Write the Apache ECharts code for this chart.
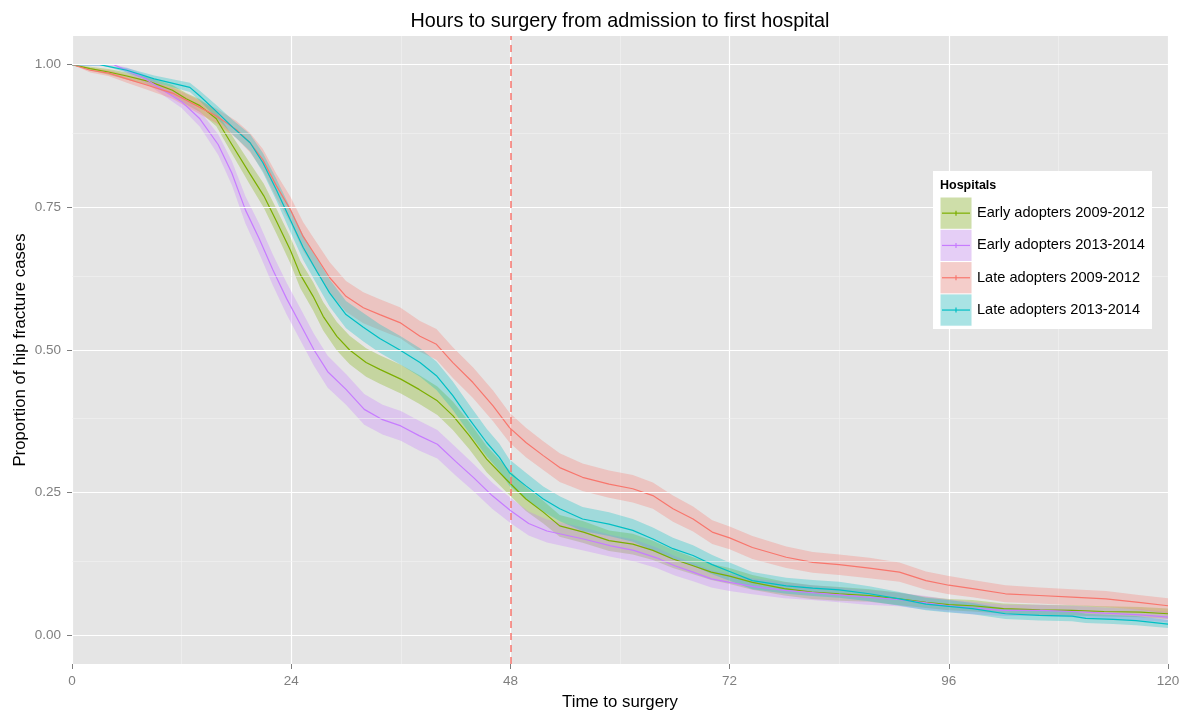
<!DOCTYPE html>
<html>
<head>
<meta charset="utf-8">
<script src="https://cdn.jsdelivr.net/npm/echarts@6/dist/echarts.min.js"></script>
<style>
html,body{margin:0;padding:0;background:#fff;}
#chart{width:1188px;height:713px;}
</style>
</head>
<body>
<div id="chart"></div>
<script>
// ---- Data ----
const seriesNames = ['Early adopters 2009-2012','Early adopters 2013-2014','Late adopters 2009-2012','Late adopters 2013-2014'];
const seriesColors = ['#7CAE00','#C77CFF','#F8766D','#00BFC4'];

const tEarly0912 = [0,2,4,6,8.5,11,12.5,14,15.8,17.5,19.5,21,22.4,23.9,25,26.4,27.5,29,30.4,32.2,33.7,36,38,40,41.7,43.5,45.4,47.5,49.7,51.6,53.4,56,58.8,61.4,63.6,65.8,68,70,72,74.5,78,81,84,87.3,90.6,93.5,96,98.6,102,106,109.5,113,117,120];
const sEarly0912 = [1,0.993,0.987,0.98,0.97,0.955,0.94,0.928,0.905,0.86,0.808,0.77,0.725,0.675,0.632,0.594,0.559,0.524,0.5,0.478,0.466,0.449,0.431,0.411,0.385,0.35,0.309,0.274,0.239,0.216,0.192,0.181,0.166,0.16,0.149,0.134,0.122,0.111,0.104,0.093,0.082,0.076,0.073,0.07,0.064,0.058,0.054,0.052,0.047,0.045,0.044,0.042,0.041,0.038];
const hwEarly0912 = [0,0.003,0.005,0.006,0.007,0.009,0.01,0.011,0.013,0.016,0.019,0.021,0.022,0.023,0.024,0.025,0.025,0.025,0.025,0.025,0.025,0.025,0.025,0.025,0.025,0.024,0.023,0.022,0.021,0.02,0.019,0.019,0.018,0.018,0.017,0.016,0.015,0.014,0.014,0.013,0.012,0.012,0.012,0.011,0.011,0.01,0.01,0.01,0.009,0.009,0.009,0.009,0.009,0.009];

const tEarly1314 = [0,4.5,6,8,10,12,14,16,17.5,19,20.5,22,23.5,25,26.5,28,30,32,34,36,38,40,42,44,46,48,50,52,56,59,61.5,64,66,68,70,72,74.5,78,81,84,87,90.5,93.5,96,98.5,102,106,109.5,113,117,120];
const sEarly1314 = [1,1,0.99,0.975,0.955,0.935,0.905,0.86,0.81,0.745,0.695,0.64,0.59,0.545,0.5,0.462,0.431,0.396,0.378,0.367,0.35,0.335,0.305,0.276,0.245,0.219,0.196,0.183,0.169,0.157,0.149,0.136,0.122,0.111,0.099,0.093,0.086,0.079,0.075,0.071,0.067,0.063,0.057,0.052,0.048,0.044,0.044,0.042,0.039,0.036,0.032];
const hwEarly1314 = [0,0,0.005,0.007,0.009,0.011,0.014,0.018,0.021,0.024,0.026,0.027,0.028,0.028,0.028,0.028,0.027,0.027,0.026,0.026,0.026,0.025,0.025,0.024,0.023,0.022,0.021,0.02,0.02,0.019,0.019,0.018,0.017,0.016,0.015,0.015,0.014,0.014,0.013,0.013,0.013,0.012,0.012,0.011,0.011,0.01,0.01,0.01,0.01,0.01,0.009];

const tLate0912 = [0,2,4,6,8,11,12.2,14,15.8,18,19.5,20.9,22.4,23.9,25.3,26.8,28.2,30,31.9,33.7,35.9,38.1,39.9,41.7,43.9,46.1,47.9,49.7,51.6,53.4,55.9,58.8,61.4,63.6,65.8,68,70.1,72,74.5,78.2,81.1,84,87.3,90.6,93.5,96,98.6,102.2,105.9,109.5,113.2,116.8,120];
const sLate0912 = [1,0.99,0.985,0.975,0.965,0.95,0.94,0.925,0.91,0.886,0.863,0.833,0.787,0.746,0.699,0.662,0.627,0.594,0.574,0.562,0.548,0.524,0.51,0.478,0.443,0.402,0.364,0.338,0.315,0.294,0.277,0.265,0.257,0.245,0.222,0.204,0.181,0.171,0.154,0.137,0.128,0.124,0.118,0.111,0.096,0.088,0.082,0.073,0.07,0.067,0.064,0.058,0.052];
const hwLate0912 = [0,0.004,0.005,0.007,0.008,0.01,0.011,0.012,0.013,0.015,0.017,0.019,0.021,0.023,0.025,0.026,0.027,0.027,0.027,0.027,0.027,0.027,0.027,0.027,0.027,0.027,0.026,0.026,0.025,0.025,0.024,0.024,0.024,0.023,0.023,0.022,0.021,0.02,0.02,0.019,0.018,0.018,0.018,0.017,0.016,0.016,0.015,0.015,0.014,0.014,0.014,0.013,0.013];

const tLate1314 = [0,3,6,9,12.9,14,15.8,17.6,19.5,20.9,22.4,23.9,25.3,26.8,28.2,30,31.9,33.7,35.9,38.1,39.9,41.7,43.5,45.4,46.8,47.9,49.7,51.6,53.4,55.9,58.8,61.4,63.6,65.8,68,70.1,72,74.5,78.2,81.1,84,87.3,90.6,93.5,96,98.6,102.2,105.9,109.5,111,114,116.5,120];
const sLate1314 = [1,1,0.99,0.975,0.96,0.945,0.918,0.89,0.863,0.828,0.78,0.728,0.68,0.638,0.6,0.562,0.54,0.52,0.5,0.478,0.455,0.42,0.379,0.338,0.312,0.285,0.262,0.239,0.222,0.204,0.195,0.184,0.169,0.152,0.14,0.124,0.112,0.096,0.087,0.083,0.08,0.073,0.064,0.055,0.051,0.047,0.038,0.035,0.034,0.03,0.028,0.026,0.02];
const hwLate1314 = [0,0,0.004,0.006,0.008,0.009,0.011,0.013,0.015,0.017,0.019,0.021,0.022,0.023,0.024,0.024,0.025,0.025,0.025,0.025,0.025,0.025,0.025,0.024,0.024,0.023,0.023,0.022,0.022,0.021,0.021,0.02,0.02,0.019,0.018,0.017,0.016,0.015,0.014,0.014,0.014,0.013,0.012,0.011,0.011,0.01,0.009,0.009,0.009,0.008,0.008,0.008,0.007];

const xTicks = [0,24,48,72,96,120];
const yMajor = [0,0.25,0.5,0.75,1];
const yMinor = [0.125,0.375,0.625,0.875];
const markerHour = 48;

const titleText = 'Hours to surgery from admission to first hospital';
const xTitle = 'Time to surgery';
const yTitle = 'Proportion of hip fracture cases';
const legendTitle = 'Hospitals';

// ---- Build ----
const groups = [
  {t:tEarly0912, s:sEarly0912, hw:hwEarly0912},
  {t:tEarly1314, s:sEarly1314, hw:hwEarly1314},
  {t:tLate0912, s:sLate0912, hw:hwLate0912},
  {t:tLate1314, s:sLate1314, hw:hwLate1314}
];

const FONT = 'Liberation Sans, Arial, sans-serif';
const chart = echarts.init(document.getElementById('chart'), null, {renderer:'canvas'});

const series = [];
// gridlines
series.push({
  type:'line', data:[], silent:true, z:1,
  markLine:{
    silent:true, symbol:['none','none'], label:{show:false}, animation:false,
    data: yMajor.map(v=>({yAxis:v, lineStyle:{color:'#FFFFFF', width:1.2, type:'solid'}}))
      .concat(yMinor.map(v=>({yAxis:v, lineStyle:{color:'#F2F2F2', width:0.6, type:'solid'}})))
  }
});
// ribbons
groups.forEach((g,k)=>{
  series.push({
    type:'custom', name:seriesNames[k]+' CI', z:2, clip:true, silent:true,
    data:[[0,0]], encode:{x:0,y:1},
    renderItem:function(params, api){
      const pts=[];
      for(let i=0;i<g.t.length;i++) pts.push(api.coord([g.t[i], Math.min(1, g.s[i]+g.hw[i])]));
      for(let i=g.t.length-1;i>=0;i--) pts.push(api.coord([g.t[i], Math.max(0, g.s[i]-g.hw[i])]));
      return {type:'polygon', shape:{points:pts}, style:{fill:seriesColors[k], opacity:0.3}};
    }
  });
});
// lines
groups.forEach((g,k)=>{
  series.push({
    type:'line', name:seriesNames[k], z:3, silent:true,
    showSymbol:false, symbol:'none',
    data: g.t.map((v,i)=>[v, g.s[i]]),
    lineStyle:{color:seriesColors[k], width:1.2}
  });
});
// dashed marker line
series.push({
  type:'line', data:[], silent:true, z:5,
  markLine:{
    silent:true, symbol:['none','none'], label:{show:false}, animation:false,
    data:[{xAxis:markerHour}],
    lineStyle:{color:'#F8766D', width:1.5, type:[7,5]}
  }
});

// legend graphic
const lgX = 933, lgY = 171, rowH = 32.3;
const legendEls = [
  {type:'rect', shape:{x:lgX, y:lgY, width:219, height:158}, style:{fill:'#FFFFFF'}, z:10},
  {type:'text', x:lgX+7, y:lgY+15, style:{text:legendTitle, font:'bold 12.5px '+FONT, fill:'#000', verticalAlign:'middle', align:'left'}, z:11}
];
seriesNames.forEach((nm,k)=>{
  const ry = 197 + k*rowH;
  legendEls.push({type:'rect', shape:{x:940, y:ry, width:32, height:rowH}, style:{fill:'#F2F2F2', stroke:'#FFFFFF', lineWidth:1}, z:11});
  legendEls.push({type:'rect', shape:{x:940.5, y:ry+0.5, width:31, height:rowH-1}, style:{fill:seriesColors[k], opacity:0.3}, z:12});
  legendEls.push({type:'line', shape:{x1:942, y1:ry+rowH/2, x2:970, y2:ry+rowH/2}, style:{stroke:seriesColors[k], lineWidth:1.2}, z:13});
  legendEls.push({type:'line', shape:{x1:956, y1:ry+rowH/2-2.5, x2:956, y2:ry+rowH/2+2.5}, style:{stroke:seriesColors[k], lineWidth:1.2}, z:13});
  legendEls.push({type:'text', x:977, y:ry+rowH/2, style:{text:nm, font:'14.6px '+FONT, fill:'#000', verticalAlign:'middle', align:'left'}, z:13});
});

const option = {
  animation:false,
  backgroundColor:'#FFFFFF',
  grid:{left:72, right:20, top:36, bottom:49, show:true, backgroundColor:'#E5E5E5', borderWidth:0, containLabel:false},
  xAxis:{
    type:'value', min:0, max:120, interval:24,
    axisLine:{show:false, onZero:false},
    axisTick:{show:true, inside:false, length:5, lineStyle:{color:'#7F7F7F', width:1}},
    axisLabel:{color:'#7F7F7F', fontSize:13.5, fontFamily:FONT, margin:10, formatter:v=>String(v)},
    splitLine:{show:true, lineStyle:{color:'#FFFFFF', width:1.2}},
    minorTick:{show:false, splitNumber:2},
    minorSplitLine:{show:true, lineStyle:{color:'#F2F2F2', width:0.6}}
  },
  yAxis:{
    type:'value', min:-0.05, max:1.05,
    axisLine:{show:false, onZero:false},
    axisTick:{show:true, inside:false, length:5, customValues:yMajor, lineStyle:{color:'#7F7F7F', width:1}},
    axisLabel:{color:'#7F7F7F', fontSize:13.5, fontFamily:FONT, margin:11, customValues:yMajor, formatter:v=>v.toFixed(2)},
    splitLine:{show:false}
  },
  series:series,
  graphic:[
    {type:'text', x:620, y:22, style:{text:titleText, font:'19.8px '+FONT, fill:'#000', align:'center', verticalAlign:'middle'}},
    {type:'text', x:620, y:702, style:{text:xTitle, font:'16.8px '+FONT, fill:'#000', align:'center', verticalAlign:'middle'}},
    {type:'text', x:20, y:350, rotation:Math.PI/2, style:{text:yTitle, font:'16.8px '+FONT, fill:'#000', align:'center', verticalAlign:'middle'}}
  ].concat(legendEls)
};
chart.setOption(option);
</script>
</body>
</html>
